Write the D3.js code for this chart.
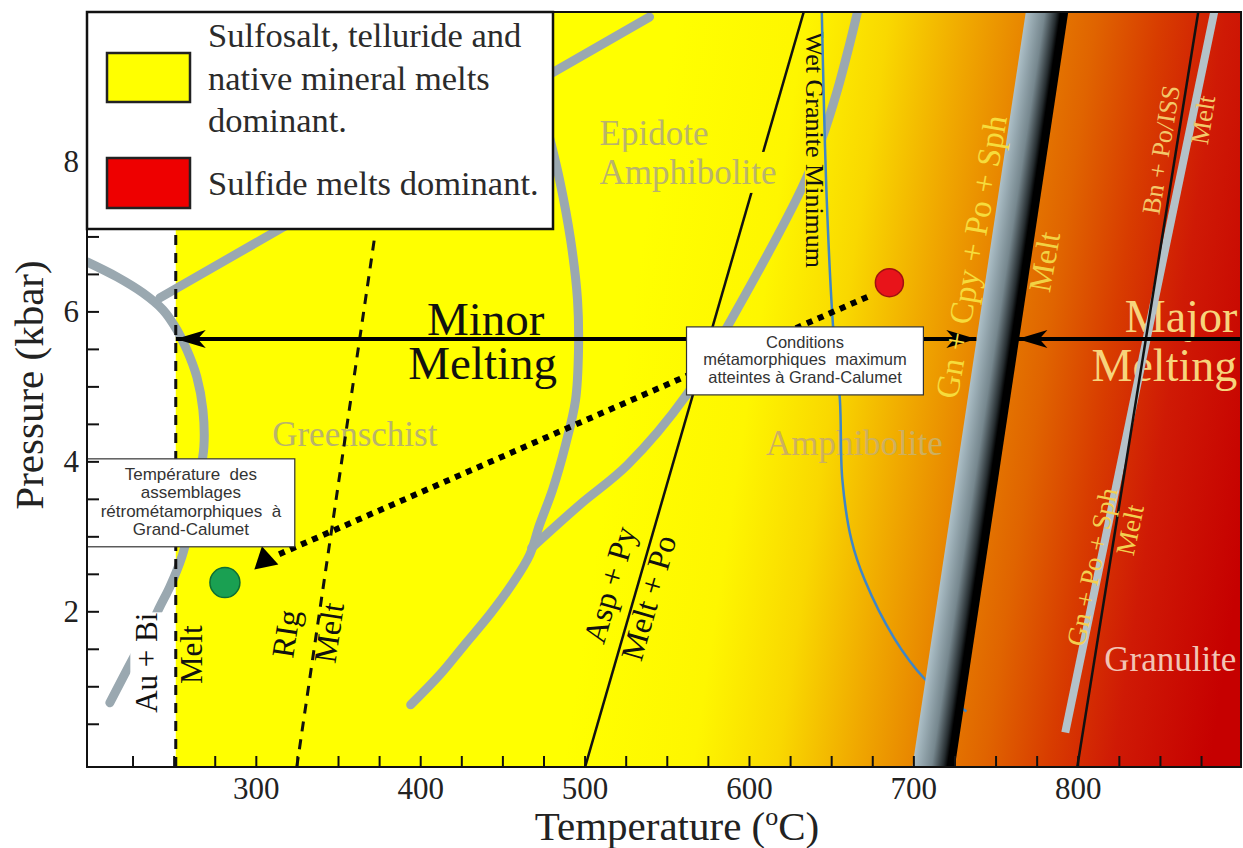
<!DOCTYPE html>
<html>
<head>
<meta charset="utf-8">
<title>Sulfide melting in P–T space</title>
<script src="https://cdn.jsdelivr.net/npm/d3@7/dist/d3.min.js"></script>
<style>
  html, body { margin: 0; padding: 0; background: #fff; }
  svg { display: block; }
  text { font-family: "Liberation Serif", "Times New Roman", "DejaVu Serif", serif; }
  text.sans { font-family: "Liberation Sans", Arial, "DejaVu Sans", sans-serif; }
</style>
</head>
<body>
<svg id="chart" width="1243" height="848"></svg>
<script>
// ---- Axis ticks -------------------------------------------------------------
const tempTicks = [300, 400, 500, 600, 700, 800];
const tempMinorTicks = [225,250,275,300,325,350,375,400,425,450,475,500,525,550,575,600,625,650,675,700,725,750,775,800,825,850,875];
const pressTicks = [2, 4, 6, 8];
const pressMinorTicks = [0.5,1,1.5,2,2.5,3,3.5,4,4.5,5,5.5,6,6.5,7,7.5,8,8.5,9,9.5];

// ---- Reaction curves, [T °C, P kbar] -----------------------------------------
const auBiMelt = [[251, -0.07], [251, 7.05]];
const rlgMelt = [[324.6, -0.07], [372, 7.0]];
const aspPyMelt = [[500, -0.07], [633, 10]];
const gnCpyPoSphMelt = [[712, -0.07], [781, 10]];
const bnPoIssMelt = [[799.4, -0.07], [873, 10]];
const gnPoSphMelt = [[792.1, 0.39], [882.7, 10]];
const wetGraniteMinimum = [[644,10],[647,7.5],[651,5.76],[655,4.83],[656.5,3.76],[662,2.96],[670,2.43],[688,1.65],[706,1.12],[722,0.83],[732,0.67]];

// ---- Metamorphic facies boundaries --------------------------------------------
const faciesWest = [[197,6.667],[215.2,6.467],[231,6.253],[243.2,6.027],[251.7,5.76],[257.8,5.493],[263.8,5.133],[267.5,4.693],[268.1,4.2],[265,3.76],[261.4,3.32],[254.7,2.733],[247.4,2.333],[241.3,2.067],[234,1.733],[225.5,1.4],[210.9,0.787]];
const faciesNorth = [[241.3,6.187],[539.2,9.933]];
const faciesCentral = [[477.2,8.427],[484.5,7.76],[491.2,6.96],[495.4,6.16],[496,5.493],[494.2,4.827],[488.1,4.227],[480.2,3.627],[472.3,3.16],[466.3,2.76],[455.3,2.36],[441.9,1.96],[426.7,1.56],[411.6,1.16],[393.9,0.76]];
const faciesEast = [[467.5,2.853],[496.7,3.427],[525.8,3.96],[561.7,4.893],[587.8,5.853],[632.2,7.667],[643.8,8.293],[653.5,8.96],[660.8,9.56],[665.7,10]];

// ---- Melting ranges and P–T path ------------------------------------------------
const minorMelting = [[738, 5.64], [251, 5.64]];
const majorMelting = [[899, 5.64], [763, 5.64]];
const retroPath = [[671.7, 6.2], [313.1, 2.76]];
const retroArrowTip = [305.2, 2.69];
const peakConditions = [685.1, 6.39];
const retrogradeConditions = [280.9, 2.39];

// ---- Legend ------------------------------------------------------------------
const legendItems = [
  { lines: ["Sulfosalt, telluride and", "native mineral melts", "dominant."], color: "#ffff00" },
  { lines: ["Sulfide melts dominant."], color: "#ee0000" }
];

// =============================================================================
const svg = d3.select("#chart");
const x = d3.scaleLinear().domain([197, 899]).range([87, 1241]);
const y = d3.scaleLinear().domain([-0.07, 10]).range([767, 12]);
const P = d => [x(d[0]), y(d[1])];
const line = d3.line().x(d => x(d[0])).y(d => y(d[1]));
const smooth = d3.line().x(d => x(d[0])).y(d => y(d[1])).curve(d3.curveCatmullRom.alpha(0.5));

const defs = svg.append("defs");
defs.append("clipPath").attr("id", "plotClip").append("rect")
  .attr("x", x(197)).attr("y", y(10)).attr("width", x(899) - x(197)).attr("height", y(-0.07) - y(10));

// direction of the Gn+Cpy+Po+Sph band and its normal
const bandPx = gnCpyPoSphMelt.map(P);
const bdx = bandPx[1][0] - bandPx[0][0], bdy = bandPx[1][1] - bandPx[0][1];
const blen = Math.hypot(bdx, bdy);
const nx = -bdy / blen, ny = bdx / blen;

// background colour ramp, parallel to the melting band
const g0 = P([521, 4.96]);
const bg = defs.append("linearGradient").attr("id", "bg").attr("gradientUnits", "userSpaceOnUse")
  .attr("x1", g0[0]).attr("y1", g0[1]).attr("x2", g0[0] + 640 * nx).attr("y2", g0[1] + 640 * ny);
[[0, "#ffff00"], [0.2, "#fef600"], [0.33, "#f9d800"], [0.45, "#f0a800"], [0.55, "#e78200"],
 [0.65, "#e06400"], [0.75, "#d83c00"], [0.85, "#cf1a05"], [1, "#c60000"]]
  .forEach(s => bg.append("stop").attr("offset", s[0]).attr("stop-color", s[1]));

const plot = svg.append("g").attr("clip-path", "url(#plotClip)");

plot.append("rect")
  .attr("x", x(auBiMelt[0][0])).attr("y", y(10))
  .attr("width", x(899) - x(auBiMelt[0][0])).attr("height", y(-0.07) - y(10))
  .attr("fill", "url(#bg)");

function txt(g, s, T, Pk, o) {
  return g.append("text")
    .attr("transform", `translate(${x(T)},${y(Pk)}) rotate(${o.rot || 0})`)
    .attr("text-anchor", o.anchor || "middle")
    .attr("dominant-baseline", o.base || "central")
    .attr("font-size", o.size)
    .attr("fill", o.fill || "#111")
    .text(s);
}
// a label sitting on a patch of the background colour, hiding lines beneath it;
// the patch is axis-aligned in plot space so the shared gradient lines up
function patchedLabel(parent, item, fill, inset) {
  const g = parent.append("g");
  const r = g.append("rect").attr("fill", fill);
  txt(g, item[0], item[1], item[2], item[3]);
  const b = g.node().getBBox();
  const ix = inset ? inset[0] : -3, iy = inset ? inset[1] : -1;
  r.attr("x", b.x + ix).attr("y", b.y + iy)
    .attr("width", b.width - 2 * ix).attr("height", b.height - 2 * iy);
  return g;
}

txt(plot, "Greenschist", 359.9, 4.36, { size: 35, fill: "#b9b36c" });
txt(plot, "Amphibolite", 663.8, 4.093, { size: 35, fill: "#cdb060", base: "alphabetic" });
txt(plot, "Granulite", 815.8, 1.213, { size: 35, fill: "#f2c4b4", anchor: "start", base: "alphabetic" });

// facies boundaries
const gray = "#9aa8b0";
[faciesWest, faciesCentral, faciesEast].forEach(c =>
  plot.append("path").attr("d", smooth(c)).attr("fill", "none")
    .attr("stroke", gray).attr("stroke-width", 9).attr("stroke-linecap", "round"));
plot.append("path").attr("d", line(faciesNorth)).attr("fill", "none")
  .attr("stroke", gray).attr("stroke-width", 9).attr("stroke-linecap", "round");

// reaction lines
plot.append("path").attr("d", line(aspPyMelt)).attr("stroke", "#111").attr("stroke-width", 2.5);
plot.append("path").attr("d", line(auBiMelt)).attr("stroke", "#111").attr("stroke-width", 3)
  .attr("stroke-dasharray", "10,8");
plot.append("path").attr("d", line(rlgMelt)).attr("stroke", "#111").attr("stroke-width", 3)
  .attr("stroke-dasharray", "10,8");

patchedLabel(plot, ["Epidote", 508.8, 8.227, { size: 35, fill: "#b9b36c", anchor: "start", base: "alphabetic" }], "url(#bg)");
patchedLabel(plot, ["Amphibolite", 508.8, 7.707, { size: 35, fill: "#b9b36c", anchor: "start", base: "alphabetic" }], "url(#bg)");
patchedLabel(plot, ["Wet Granite Minimum", 639.5, 8.16, { size: 26, rot: 90 }], "url(#bg)", [5, 0]);

// wet granite solidus
plot.append("path").attr("d", smooth(wetGraniteMinimum)).attr("fill", "none")
  .attr("stroke", "#3f86c8").attr("stroke-width", 2.5);

// Gn + Cpy + Po + Sph = Melt band
const hw = 21;
const bandGrad = defs.append("linearGradient").attr("id", "band").attr("gradientUnits", "userSpaceOnUse")
  .attr("x1", bandPx[0][0] - hw * nx).attr("y1", bandPx[0][1] - hw * ny)
  .attr("x2", bandPx[0][0] + hw * nx).attr("y2", bandPx[0][1] + hw * ny);
[[0, "#adc0c8"], [0.45, "#76878e"], [0.72, "#262d30"], [0.82, "#000"], [1, "#000"]]
  .forEach(s => bandGrad.append("stop").attr("offset", s[0]).attr("stop-color", s[1]));
const ext = 30 / blen;
const bA = [bandPx[0][0] - bdx * ext, bandPx[0][1] - bdy * ext];
const bB = [bandPx[1][0] + bdx * ext, bandPx[1][1] + bdy * ext];
plot.append("polygon").attr("points", [
  [bA[0] - hw * nx, bA[1] - hw * ny], [bB[0] - hw * nx, bB[1] - hw * ny],
  [bB[0] + hw * nx, bB[1] + hw * ny], [bA[0] + hw * nx, bA[1] + hw * ny]
].map(p => p.join(",")).join(" ")).attr("fill", "url(#band)");

// Major melting words sit under the two sulfide lines
txt(plot, "Major", 896.7, 5.733, { size: 46, fill: "#f7d47c", anchor: "end", base: "alphabetic" });
txt(plot, "Melting", 896.7, 5.08, { size: 46, fill: "#f7d47c", anchor: "end", base: "alphabetic" });

plot.append("path").attr("d", line(gnPoSphMelt)).attr("stroke", "#b4c2c9").attr("stroke-width", 8);
plot.append("path").attr("d", line(bnPoIssMelt)).attr("stroke", "#111").attr("stroke-width", 2.5);

// melting range arrows
function arrow(seg, heads) {
  const a = P(seg[0]), b = P(seg[1]);
  plot.append("line").attr("x1", a[0]).attr("y1", a[1]).attr("x2", b[0]).attr("y2", b[1])
    .attr("stroke", "#000").attr("stroke-width", 4);
  heads.forEach(([tip, from]) => {
    const ux = (tip[0] - from[0]) / Math.hypot(tip[0] - from[0], tip[1] - from[1]);
    const L = 30, Wd = 9;
    plot.append("polygon").attr("points", [
      [tip[0], tip[1]],
      [tip[0] - ux * L, tip[1] - Wd],
      [tip[0] - ux * (L - 8), tip[1]],
      [tip[0] - ux * L, tip[1] + Wd]
    ].map(p => p.join(",")).join(" ")).attr("fill", "#000");
  });
}
{
  const a = P(minorMelting[0]), b = P(minorMelting[1]);
  arrow(minorMelting, [[b, a], [a, b]]);
  const c = P(majorMelting[0]), d = P(majorMelting[1]);
  arrow(majorMelting, [[d, c]]);
}

// P–T path between peak and retrograde conditions
plot.append("path").attr("d", line(retroPath)).attr("stroke", "#000")
  .attr("stroke-width", 6).attr("stroke-dasharray", "6,6");
plot.append("path")
  .attr("d", d3.symbol(d3.symbolTriangle, 260)())
  .attr("transform", `translate(${x(retroArrowTip[0])},${y(retroArrowTip[1])}) rotate(-12)`)
  .attr("fill", "#000");
plot.append("circle").attr("cx", x(peakConditions[0])).attr("cy", y(peakConditions[1]))
  .attr("r", 14).attr("fill", "#e8141a").attr("stroke", "#a01010").attr("stroke-width", 1.5);
plot.append("circle").attr("cx", x(retrogradeConditions[0])).attr("cy", y(retrogradeConditions[1]))
  .attr("r", 15).attr("fill", "#1aa052").attr("stroke", "#0f6e34").attr("stroke-width", 1.5);

// reaction labels
txt(plot, "Minor", 439.5, 5.693, { size: 47, base: "alphabetic" });
txt(plot, "Melting", 437.7, 5.107, { size: 47, base: "alphabetic" });
txt(plot, "Asp + Py", 514.9, 2.36, { size: 32, rot: -74 });
txt(plot, "Melt + Po", 538.5, 2.187, { size: 32, rot: -74 });
patchedLabel(plot, ["Au + Bi", 233.4, 1.32, { size: 31, rot: -90 }], "#fff", [1, 0]);
txt(plot, "Melt", 260.8, 1.427, { size: 31, rot: -90 });
txt(plot, "RIg", 317.9, 1.707, { size: 32, rot: -81.6 });
txt(plot, "Melt", 344.1, 1.72, { size: 32, rot: -81.6 });
txt(plot, "Gn + Cpy + Po + Sph", 735.0, 6.733, { size: 33, rot: -80, fill: "#f6dc3c" });
txt(plot, "Melt", 779.3, 6.667, { size: 32, rot: -80, fill: "#f2d244" });
txt(plot, "Bn + Po/ISS", 850.5, 8.16, { size: 26, rot: -80.8, fill: "#f3c86a" });
txt(plot, "Melt", 876.0, 8.56, { size: 26, rot: -80.8, fill: "#f3c86a" });
txt(plot, "Gn + Po + Sph", 808.5, 2.6, { size: 27, rot: -78, fill: "#f3d050" });
txt(plot, "Melt", 831.5, 3.093, { size: 27, rot: -78, fill: "#f3d050" });

// call-out boxes
function callout(T0, T1, P0, P1, lines, size, first, step) {
  const g = svg.append("g");
  const x0 = x(T0), x1 = x(T1), y0 = y(P0), y1 = y(P1);
  g.append("rect").attr("x", x0).attr("y", y0).attr("width", x1 - x0).attr("height", y1 - y0)
    .attr("fill", "#fff").attr("stroke", "#333").attr("stroke-width", 1.2);
  lines.forEach((s, i) => g.append("text").attr("class", "sans")
    .attr("x", (x0 + x1) / 2).attr("y", y0 + first + i * step)
    .attr("text-anchor", "middle").attr("font-size", size).attr("fill", "#333")
    .attr("xml:space", "preserve").text(s));
}
callout(561.7, 705.8, 5.8, 4.893,
  ["Conditions", "métamorphiques  maximum", "atteintes à Grand-Calumet"], 16.5, 21, 17.5);
callout(197, 323.4, 4.04, 2.867,
  ["Température  des", "assemblages", "rétrométamorphiques  à", "Grand-Calumet"], 17, 21, 18.5);

// legend
{
  const g = svg.append("g");
  g.append("rect").attr("x", 87).attr("y", 12).attr("width", 466).attr("height", 217)
    .attr("fill", "#fff").attr("stroke", "#111").attr("stroke-width", 2.5);
  const sw = [[53, 49], [158, 50]];
  legendItems.forEach((it, i) => {
    g.append("rect").attr("x", 107).attr("y", sw[i][0]).attr("width", 83).attr("height", sw[i][1])
      .attr("fill", it.color).attr("stroke", "#222").attr("stroke-width", 2.5);
  });
  const base = [[47, 90, 132], [195]];
  legendItems.forEach((it, i) => it.lines.forEach((s, j) =>
    g.append("text").attr("x", 208).attr("y", base[i][j]).attr("font-size", 34.5)
      .attr("fill", "#2b2b2b").text(s)));
}

// axes and frame
const ax = svg.append("g");
ax.append("rect").attr("x", x(197)).attr("y", y(10)).attr("width", x(899) - x(197))
  .attr("height", y(-0.07) - y(10)).attr("fill", "none").attr("stroke", "#111").attr("stroke-width", 2);
tempMinorTicks.forEach(t => ax.append("line").attr("x1", x(t)).attr("x2", x(t))
  .attr("y1", y(-0.07)).attr("y2", y(-0.07) - 11).attr("stroke", "#111").attr("stroke-width", 2));
pressMinorTicks.filter(p => y(p) > 232).forEach(p => ax.append("line").attr("y1", y(p)).attr("y2", y(p))
  .attr("x1", x(197)).attr("x2", x(197) + 12).attr("stroke", "#111").attr("stroke-width", 2));
tempTicks.forEach(t => ax.append("text").attr("x", x(t)).attr("y", 799)
  .attr("text-anchor", "middle").attr("font-size", 31).attr("fill", "#222").text(t));
pressTicks.forEach(p => ax.append("text").attr("x", 79).attr("y", y(p))
  .attr("text-anchor", "end").attr("dominant-baseline", "central")
  .attr("font-size", 31).attr("fill", "#222").text(p));
{
  const t = ax.append("text").attr("x", 677).attr("y", 840).attr("text-anchor", "middle")
    .attr("font-size", 41).attr("fill", "#222");
  t.append("tspan").text("Temperature (");
  t.append("tspan").attr("font-size", 26).attr("dy", -15).text("o");
  t.append("tspan").attr("dy", 15).text("C)");
}
ax.append("text").attr("transform", "translate(43,385) rotate(-90)")
  .attr("text-anchor", "middle").attr("font-size", 41).attr("fill", "#222").text("Pressure (kbar)");
</script>
</body>
</html>
